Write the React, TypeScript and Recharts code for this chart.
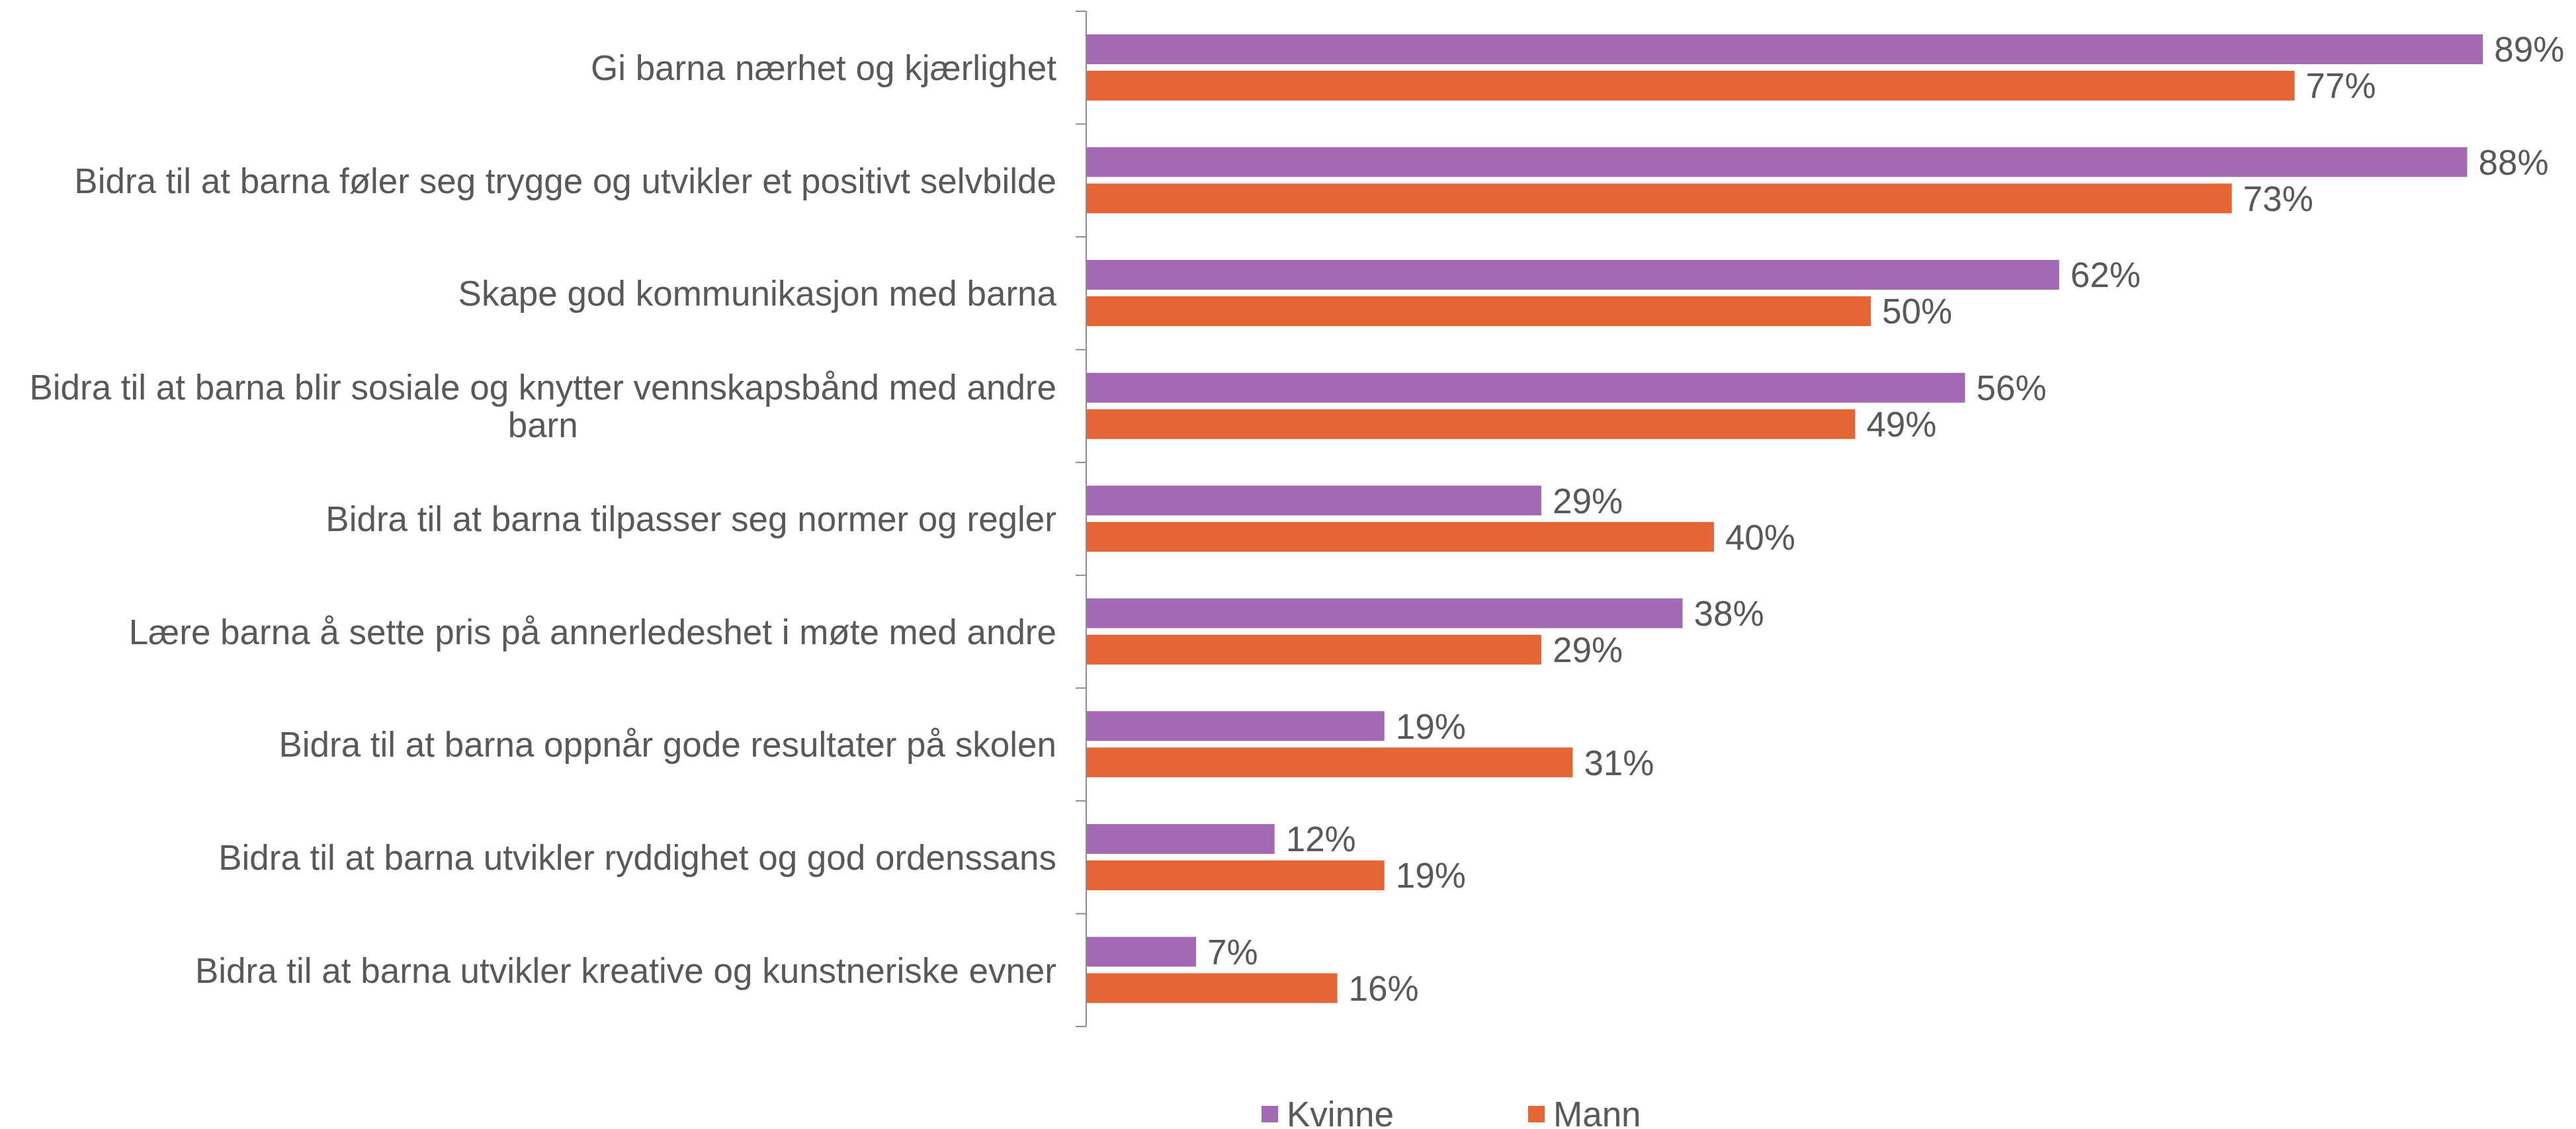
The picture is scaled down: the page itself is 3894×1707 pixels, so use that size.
import React from "react";
import { BarChart, Bar, XAxis, YAxis, Legend, LabelList } from "recharts";

const CATEGORIES = [
  "Gi barna nærhet og kjærlighet",
  "Bidra til at barna føler seg trygge og utvikler et positivt selvbilde",
  "Skape god kommunikasjon med barna",
  "Bidra til at barna blir sosiale og knytter vennskapsbånd med andre\nbarn",
  "Bidra til at barna tilpasser seg normer og regler",
  "Lære barna å sette pris på annerledeshet i møte med andre",
  "Bidra til at barna oppnår gode resultater på skolen",
  "Bidra til at barna utvikler ryddighet og god ordenssans",
  "Bidra til at barna utvikler kreative og kunstneriske evner",
];
const KVINNE = [89, 88, 62, 56, 29, 38, 19, 12, 7];
const MANN = [77, 73, 50, 49, 40, 29, 31, 19, 16];

// the helper axis spans the row indices [0, n-1]; category boundaries split it into n equal bands
const LAST = CATEGORIES.length - 1;
const BOUNDARY_TICKS = Array.from({ length: CATEGORIES.length + 1 }, (_, k) => (k * LAST) / CATEGORIES.length);

const SERIES = [
  { key: "kvinne", label: "Kvinne", color: "#A36AB4" },
  { key: "mann", label: "Mann", color: "#E46535" },
] as const;

const FONT = '"Liberation Sans", Arial, sans-serif';
const FONT_SIZE = 53;
const TEXT = "#595959";
const AXIS = "#8C8C8C";

const data = CATEGORIES.map((name, i) => ({
  name,
  kvinne: KVINNE[i],
  mann: MANN[i],
}));

let ctx: CanvasRenderingContext2D | null = null;
function measure(s: string) {
  if (!ctx) {
    ctx = document.createElement("canvas").getContext("2d");
    if (ctx) ctx.font = `${FONT_SIZE}px "Liberation Sans", Arial`;
  }
  return ctx ? ctx.measureText(s).width : s.length * FONT_SIZE * 0.5;
}

// multi-line labels are centred as a block, block right-aligned at the tick
function CategoryTick(props: any) {
  const { x, y, payload } = props;
  const lines: string[] = String(payload.value).split("\n");
  const blockW = Math.max(...lines.map(measure));
  const cx = x - blockW / 2;
  const lh = 57;
  return (
    <text fontFamily={FONT} fontSize={FONT_SIZE} fill={TEXT} textAnchor="middle">
      {lines.map((l, i) => (
        <tspan key={i} x={cx} y={y + (i - (lines.length - 1) / 2) * lh} dy="0.355em">
          {l}
        </tspan>
      ))}
    </text>
  );
}

function LegendContent() {
  return (
    <div style={{ display: "flex", alignItems: "center", height: 58, fontFamily: FONT, fontSize: FONT_SIZE, color: TEXT }}>
      {SERIES.map((s) => (
        <div key={s.key} style={{ display: "flex", alignItems: "center", width: s.key === "kvinne" ? 403 : 200 }}>
          <span style={{ display: "inline-block", width: 25, height: 25, background: s.color, marginRight: 13 }} />
          <span>{s.label}</span>
        </div>
      ))}
    </div>
  );
}

export default function App() {
  return (
    <div style={{ position: "absolute", left: 0, top: 0, background: "#fff" }}>
      <BarChart
        width={3894}
        height={1707}
        data={data}
        layout="vertical"
        margin={{ top: 17, right: 117, left: 0, bottom: 97 }}
        barSize={45}
        barGap={10}
      >
        <XAxis type="number" domain={[0, 90]} hide />
        {/* boundary ticks between categories, Excel style */}
        <YAxis
          yAxisId="a"
          type="number"
          domain={[0, LAST]}
          ticks={BOUNDARY_TICKS}
          allowDataOverflow
          interval={0}
          width={1}
          tickFormatter={() => ""}
          tickSize={16}
          axisLine={{ stroke: AXIS, strokeWidth: 2 }}
          tickLine={{ stroke: AXIS, strokeWidth: 2 }}
        />
        <YAxis
          yAxisId="b"
          type="category"
          dataKey="name"
          width={1641}
          axisLine={false}
          tickLine={false}
          tickSize={0}
          tickMargin={44}
          interval={0}
          tick={<CategoryTick />}
        />
        <Legend
          verticalAlign="bottom"
          content={<LegendContent />}
          wrapperStyle={{ left: 1907, top: 1655, width: "auto" }}
        />
        {SERIES.map((s) => (
          <Bar key={s.key} yAxisId="b" dataKey={s.key} name={s.label} fill={s.color} isAnimationActive={false}>
            <LabelList
              dataKey={s.key}
              position="right"
              offset={17}
              formatter={(v: any) => `${v}%`}
              fill={TEXT}
              fontSize={FONT_SIZE}
              fontFamily={FONT}
            />
          </Bar>
        ))}
      </BarChart>
    </div>
  );
}
